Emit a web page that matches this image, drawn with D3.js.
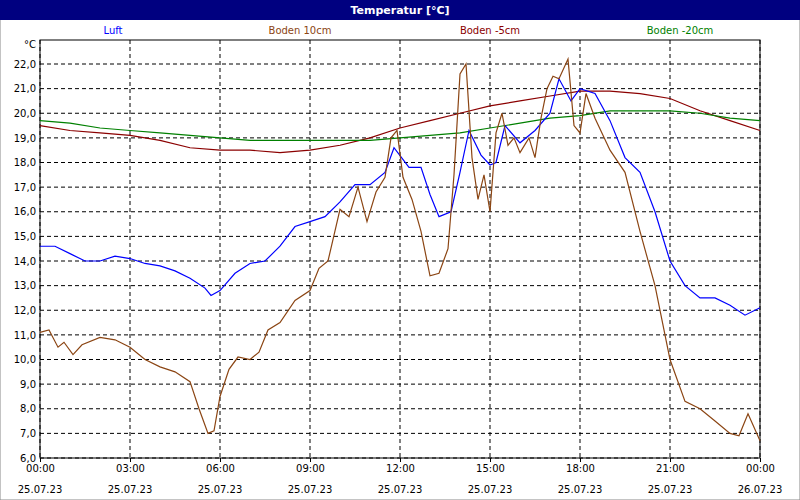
<!DOCTYPE html><html><head><meta charset="utf-8"><script src="https://d3js.org/d3.v7.min.js"></script>
<style>body{margin:0;background:#fff}svg{font-family:"DejaVu Sans",sans-serif}</style></head><body><script>
const yTicks=[6,7,8,9,10,11,12,13,14,15,16,17,18,19,20,21,22];
const xTicks=[0,3,6,9,12,15,18,21,24];
const xLabels=["00:00","03:00","06:00","09:00","12:00","15:00","18:00","21:00","00:00"];
const xDates=["25.07.23","25.07.23","25.07.23","25.07.23","25.07.23","25.07.23","25.07.23","25.07.23","26.07.23"];
const seriesNames=["Luft","Boden 10cm","Boden -5cm","Boden -20cm"];
const seriesColors=["#0000ff","#8b4513","#8b0000","#008000"];
const luft=[[0,14.6],[0.5,14.6],[1,14.3],[1.5,14.0],[2,14.0],[2.5,14.2],[3,14.1],[3.5,13.9],[4,13.8],[4.5,13.6],[5,13.3],[5.5,12.9],[5.7,12.6],[6,12.8],[6.5,13.5],[7,13.9],[7.5,14.0],[8,14.6],[8.5,15.4],[9,15.6],[9.5,15.8],[10,16.4],[10.5,17.1],[11,17.1],[11.5,17.6],[11.8,18.6],[12.3,17.8],[12.7,17.8],[13,16.7],[13.3,15.8],[13.7,16.0],[14,17.6],[14.3,19.3],[14.7,18.3],[15,17.9],[15.2,18.0],[15.5,19.5],[16,18.8],[16.5,19.3],[17,20.0],[17.3,21.4],[17.7,20.5],[18,21.0],[18.5,20.8],[19,19.7],[19.5,18.2],[20,17.6],[20.5,16.0],[21,14.0],[21.5,13.0],[22,12.5],[22.5,12.5],[23,12.2],[23.5,11.8],[24,12.1]];
const boden10=[[0,11.1],[0.3,11.2],[0.6,10.5],[0.8,10.7],[1.1,10.2],[1.4,10.6],[2,10.9],[2.5,10.8],[3,10.5],[3.5,10.0],[4,9.7],[4.5,9.5],[5,9.1],[5.3,8.0],[5.6,7.0],[5.8,7.1],[6,8.5],[6.3,9.6],[6.6,10.1],[7,10.0],[7.3,10.3],[7.6,11.2],[8,11.5],[8.5,12.4],[9,12.8],[9.3,13.7],[9.6,14.0],[10,16.1],[10.3,15.8],[10.6,17.0],[10.9,15.6],[11.2,16.8],[11.5,17.4],[11.7,19.0],[11.9,19.3],[12.1,17.4],[12.4,16.5],[12.7,15.2],[13,13.4],[13.3,13.5],[13.6,14.5],[13.8,17.5],[14,21.6],[14.2,22.0],[14.4,18.2],[14.6,16.5],[14.8,17.5],[15,16.0],[15.2,19.2],[15.4,20.0],[15.6,18.7],[15.8,19.0],[16,18.4],[16.3,19.0],[16.5,18.2],[16.7,19.8],[16.9,21.0],[17.1,21.5],[17.3,21.4],[17.6,22.2],[17.8,19.5],[18,19.2],[18.2,20.8],[18.5,19.8],[19,18.5],[19.5,17.6],[20,15.2],[20.5,13.0],[21,10.0],[21.5,8.3],[22,8.0],[22.5,7.5],[23,7.0],[23.3,6.9],[23.6,7.8],[24,6.7]];
const boden5=[[0,19.5],[1,19.3],[2,19.2],[3,19.1],[4,18.9],[5,18.6],[6,18.5],[7,18.5],[8,18.4],[9,18.5],[10,18.7],[11,19.0],[12,19.4],[13,19.7],[14,20.0],[15,20.3],[16,20.5],[17,20.7],[18,20.9],[19,20.9],[20,20.8],[21,20.6],[22,20.1],[23,19.7],[24,19.3]];
const boden20=[[0,19.7],[1,19.6],[2,19.4],[3,19.3],[4,19.2],[5,19.1],[6,19.0],[7,18.9],[8,18.9],[9,18.9],[10,18.9],[11,18.9],[12,19.0],[13,19.1],[14,19.2],[15,19.4],[16,19.6],[17,19.8],[18,19.9],[19,20.1],[20,20.1],[21,20.1],[22,20.0],[23,19.8],[24,19.7]];
const series=[luft,boden10,boden5,boden20];
const svg=d3.select("body").append("svg").attr("width",800).attr("height",500);
svg.append("rect").attr("width",800).attr("height",500).attr("fill","#fff").attr("stroke","#888");
svg.append("rect").attr("width",800).attr("height",20).attr("fill","#000080");
svg.append("text").attr("x",400).attr("y",14).attr("text-anchor","middle").attr("fill","#fff").attr("font-weight","bold").attr("font-size",11).text("Temperatur [°C]");
const x=d3.scaleLinear().domain([0,24]).range([40,760]);
const y=d3.scaleLinear().domain([6,22]).range([458,64]);
const legX=[113,300,490,680];
seriesNames.forEach((n,i)=>svg.append("text").attr("x",legX[i]).attr("y",34).attr("text-anchor","middle").attr("font-size",10).attr("fill",seriesColors[i]).text(n));
const g=svg.append("g");
yTicks.forEach(t=>g.append("line").attr("x1",40).attr("x2",760).attr("y1",y(t)).attr("y2",y(t)).attr("stroke","#000").attr("stroke-dasharray","4,3"));
xTicks.forEach(t=>g.append("line").attr("x1",x(t)).attr("x2",x(t)).attr("y1",40).attr("y2",458).attr("stroke","#000").attr("stroke-dasharray","4,3"));
g.append("rect").attr("x",40).attr("y",40).attr("width",720).attr("height",418).attr("fill","none").attr("stroke","#000");
const ya=svg.append("g").attr("transform","translate(40,0)").call(d3.axisLeft(y).tickValues(yTicks).tickSize(0).tickPadding(4).tickFormat(d=>d.toFixed(1).replace(".",",")));
ya.select(".domain").remove();ya.selectAll("text").attr("font-size",10).attr("font-family","DejaVu Sans");
svg.append("text").attr("x",36).attr("y",48).attr("text-anchor","end").attr("font-size",10).text("°C");
const xa=svg.append("g").attr("transform","translate(0,458)").call(d3.axisBottom(x).tickValues(xTicks).tickSize(4).tickPadding(3).tickFormat((d,i)=>xLabels[i]));
xa.select(".domain").remove();xa.selectAll("text").attr("font-size",10).attr("font-family","DejaVu Sans");
xTicks.forEach((t,i)=>svg.append("text").attr("x",x(t)).attr("y",493).attr("text-anchor","middle").attr("font-size",10).text(xDates[i]));
const line=d3.line().x(d=>x(d[0])).y(d=>y(d[1]));
[2,3,0,1].forEach(i=>svg.append("path").datum(series[i]).attr("d",line).attr("fill","none").attr("stroke",seriesColors[i]).attr("stroke-width",1.2));
</script></body></html>
